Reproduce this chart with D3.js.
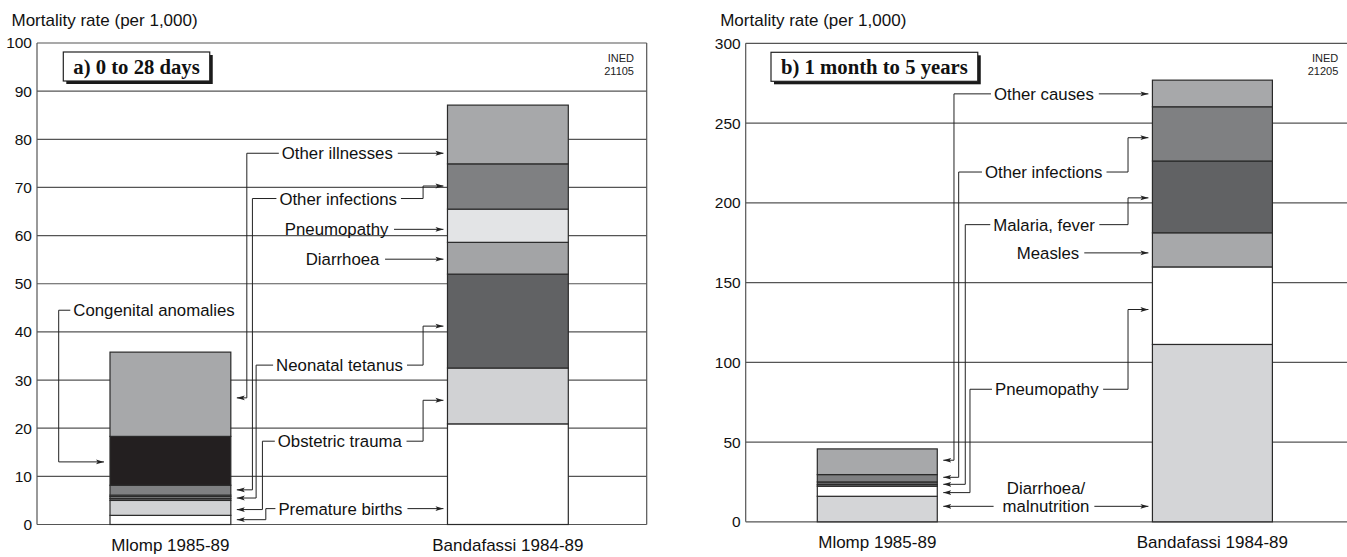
<!DOCTYPE html>
<html>
<head>
<meta charset="utf-8">
<script src="https://cdn.jsdelivr.net/npm/d3@7"></script>
<style>
body { margin: 0; background: #fff; }
svg { display: block; font-family: "Liberation Sans", Arial, Helvetica, sans-serif; }
</style>
</head>
<body>
<svg id="chart" width="1347" height="557"></svg>
<script>
//Sites on the x axis
var sites = ["Mlomp 1985-89", "Bandafassi 1984-89"];

//a) 0 to 28 days : causes stacked from the bottom of each bar
var causesA = ["Premature births", "Obstetric trauma", "Neonatal tetanus", "Diarrhoea",
    "Pneumopathy", "Other infections", "Congenital anomalies", "Other illnesses"];
var mlompA = [1.9, 3.1, 0.4, 0.4, 0.3, 2.05, 10.15, 17.5];
var bandafassiA = [20.9, 11.6, 19.5, 6.6, 6.9, 9.4, 0, 12.2];
var fillsA = ["#ffffff", "#d1d2d4", "#616264", "#a3a4a6", "#e3e4e6", "#7f8082", "#231f20", "#a7a8aa"];
var ticksA = [0, 10, 20, 30, 40, 50, 60, 70, 80, 90, 100];

//b) 1 month to 5 years
var causesB = ["Diarrhoea/malnutrition", "Pneumopathy", "Measles", "Malaria, fever",
    "Other infections", "Other causes"];
var mlompB = [16.0, 6.3, 1.0, 1.7, 4.6, 16.1];
var bandafassiB = [111.2, 48.6, 21.4, 45.0, 34.0, 16.7];
var fillsB = ["#d4d5d7", "#ffffff", "#a7a8aa", "#616264", "#7f8082", "#a7a8aa"];
var ticksB = [0, 50, 100, 150, 200, 250, 300];

//Callouts: label height and arrow targets are in rate units,
//lane / tx are pixel offsets from the right edge of the Mlomp bar
var calloutsA = [
    {text: ["Other illnesses"], y: 77.1, toM: 26.3, toB: 77.1, lane: 16, tx: 51},
    {text: ["Other infections"], y: 67.7, toM: 7.2, toB: 70.3, lane: 21.6, tx: 48.6},
    {text: ["Pneumopathy"], y: 61.3, toB: 61.3, tx: 157.6, anchor: "end"},
    {text: ["Diarrhoea"], y: 55.1, toB: 55.1, tx: 148.6, anchor: "end"},
    {text: ["Neonatal tetanus"], y: 33.1, toM: 5.5, toB: 41.2, lane: 25.3, tx: 45.3},
    {text: ["Obstetric trauma"], y: 17.3, toM: 3.1, toB: 25.8, lane: 31.6, tx: 47},
    {text: ["Premature births"], y: 3.3, toM: 1.0, toB: 3.3, lane: 35, tx: 47.6},
    {text: ["Congenital anomalies"], y: 44.5, toM: 13.0, outer: true, lane: -51.3, tx: -36.7}
];
var calloutsB = [
    {text: ["Other causes"], y: 268.3, toM: 38.6, toB: 268.3, lane: 16.7, tx: 56.7},
    {text: ["Other infections"], y: 219.3, toM: 27.9, toB: 240.8, lane: 21.4, tx: 47.7},
    {text: ["Malaria, fever"], y: 186.3, toM: 23.5, toB: 203.1, lane: 28, tx: 56},
    {text: ["Measles"], y: 168.6, toB: 168.6, tx: 142, anchor: "end"},
    {text: ["Pneumopathy"], y: 83.1, toM: 18.3, toB: 133.1, lane: 32.7, tx: 57.7},
    {text: ["Diarrhoea/", "malnutrition"], lines: [21.4, 9.7], y: 9.7, toM: 9.7, toB: 9.7, tx: 108.7, anchor: "middle"}
];

var svg = d3.select("#chart");
var ink = "#222";

svg.append("defs").append("marker")
    .attr("id", "arrow")
    .attr("markerUnits", "userSpaceOnUse")
    .attr("viewBox", "0 0 8 6")
    .attr("markerWidth", 8)
    .attr("markerHeight", 6)
    .attr("refX", 8)
    .attr("refY", 3)
    .attr("orient", "auto")
    .append("path")
    .attr("d", "M0,0.6 L8,3 L0,5.4 L1.8,3 Z")
    .attr("fill", ink);

function drawPanel(cfg) {
    var g = svg.append("g");

    var y = d3.scaleLinear().domain([0, cfg.max]).range([cfg.bottom, cfg.top]);
    var x = d3.scaleBand().domain(sites)
        .range([cfg.left + cfg.barInsetL, cfg.right - cfg.barInsetR])
        .paddingInner(0.642);

    //grid lines across the plot
    g.append("g").selectAll("line")
        .data(cfg.ticks)
        .join("line")
        .attr("x1", cfg.left)
        .attr("x2", cfg.right)
        .attr("y1", function (d) { return y(d); })
        .attr("y2", function (d) { return y(d); })
        .attr("stroke", "#555")
        .attr("stroke-width", 1.2);

    g.append("line")
        .attr("x1", cfg.left).attr("x2", cfg.left)
        .attr("y1", y(0)).attr("y2", y(cfg.max))
        .attr("stroke", "#555").attr("stroke-width", 1.2);
    g.append("line")
        .attr("x1", cfg.right).attr("x2", cfg.right)
        .attr("y1", y(0)).attr("y2", y(cfg.max))
        .attr("stroke", "#555").attr("stroke-width", 1.2);

    var axis = d3.axisLeft(y).tickValues(cfg.ticks).tickSize(0).tickPadding(5);
    g.append("g")
        .attr("transform", "translate(" + cfg.left + ",0)")
        .call(axis)
        .call(function (a) { a.select(".domain").remove(); })
        .selectAll("text")
        .attr("font-size", "15.5px")
        .attr("fill", "#111")
        .attr("font-family", "Liberation Sans, Arial, sans-serif");

    g.append("text")
        .attr("x", cfg.left - 25.5)
        .attr("y", 25.5)
        .attr("font-size", "17px")
        .attr("fill", "#111")
        .text("Mortality rate (per 1,000)");

    //stacked bars
    var series = [cfg.mlomp, cfg.banda];
    series.forEach(function (vals, i) {
        var site = sites[i];
        var base = 0;
        vals.forEach(function (v, k) {
            if (v > 0) {
                g.append("rect")
                    .attr("x", x(site))
                    .attr("y", y(base + v))
                    .attr("width", x.bandwidth())
                    .attr("height", y(base) - y(base + v))
                    .attr("fill", cfg.fills[k])
                    .attr("stroke", "#2a2a2a")
                    .attr("stroke-width", 1.2);
            }
            base += v;
        });
        g.append("text")
            .attr("x", x(site) + x.bandwidth() / 2)
            .attr("y", y(0) + 26)
            .attr("text-anchor", "middle")
            .attr("font-size", "17px")
            .attr("fill", "#111")
            .text(site);
    });

    //title box with shadow
    var tb = g.append("g").attr("transform", "translate(" + (cfg.left + cfg.titleDx) + "," + (cfg.top + 9) + ")");
    var shadow = tb.append("rect").attr("x", 3).attr("y", 3).attr("height", 29).attr("fill", "#1a1a1a");
    var box = tb.append("rect").attr("height", 29).attr("fill", "#fff").attr("stroke", "#222").attr("stroke-width", 1.2);
    var tt = tb.append("text")
        .attr("x", 10)
        .attr("y", 21.5)
        .attr("font-family", "Liberation Serif, Times New Roman, serif")
        .attr("font-weight", "bold")
        .attr("font-size", "20.7px")
        .attr("fill", "#111")
        .text(cfg.title);
    var tw = tt.node().getComputedTextLength() + 20;
    shadow.attr("width", tw);
    box.attr("width", tw);

    //INED stamp
    var stamp = g.append("text")
        .attr("font-family", "Liberation Sans Narrow, Arial Narrow, Liberation Sans, sans-serif")
        .attr("font-size", "11px")
        .attr("fill", "#222")
        .attr("text-anchor", "end");
    stamp.append("tspan").attr("x", cfg.stampX).attr("y", cfg.top + 19).text("INED");
    stamp.append("tspan").attr("x", cfg.stampX).attr("y", cfg.top + 32).text(cfg.stamp);

    //callouts
    var mR = x(sites[0]) + x.bandwidth();
    var mL = x(sites[0]);
    var bL = x(sites[1]);
    var elbowX = bL - 24.4;

    function path(pts, arrow) {
        g.append("path")
            .attr("d", d3.line()(pts))
            .attr("fill", "none")
            .attr("stroke", ink)
            .attr("stroke-width", 1)
            .attr("marker-end", arrow ? "url(#arrow)" : null);
    }

    cfg.callouts.forEach(function (c) {
        var ref = c.outer ? mL : mR;
        var lineYs = c.lines || [c.y];
        var anchor = c.anchor || "start";
        var boxes = [];
        c.text.forEach(function (t, k) {
            var el = g.append("text")
                .attr("x", ref + c.tx)
                .attr("y", y(lineYs[k]))
                .attr("dy", "0.36em")
                .attr("text-anchor", anchor)
                .attr("font-size", "16.8px")
                .attr("fill", "#111")
                .text(t);
            boxes.push(el.node().getBBox());
        });
        var last = boxes[boxes.length - 1];
        var ty = y(c.y);
        var tLeft = last.x, tRight = last.x + last.width;

        if (c.outer) {
            //left of the Mlomp bar
            var lx = ref + c.lane;
            path([[tLeft - 3, ty], [lx, ty], [lx, y(c.toM)], [mL - 6, y(c.toM)]], true);
            return;
        }

        if (c.toB != null) {
            if (Math.abs(c.toB - c.y) < 0.5) {
                path([[tRight + 5, ty], [bL - 4, ty]], true);
            } else {
                path([[tRight + 4, ty], [elbowX, ty], [elbowX, y(c.toB)], [bL - 4, y(c.toB)]], true);
            }
        }
        if (c.toM != null) {
            if (c.lane != null) {
                var lx2 = ref + c.lane;
                path([[tLeft - 3, ty], [lx2, ty], [lx2, y(c.toM)], [mR + 6, y(c.toM)]], true);
            } else {
                path([[tLeft - 9, ty], [mR + 6, y(c.toM)]], true);
            }
        }
    });
}

drawPanel({
    left: 37, right: 646.7, top: 43, bottom: 524.5, max: 100,
    barInsetL: 73, barInsetR: 78.4,
    ticks: ticksA, mlomp: mlompA, banda: bandafassiA, fills: fillsA,
    title: "a) 0 to 28 days", titleDx: 26.3, stamp: "21105", stampX: 634,
    callouts: calloutsA
});

drawPanel({
    left: 745.7, right: 1355.4, top: 43.3, bottom: 521.8, max: 300,
    barInsetL: 71.6, barInsetR: 83,
    ticks: ticksB, mlomp: mlompB, banda: bandafassiB, fills: fillsB,
    title: "b) 1 month to 5 years", titleDx: 25.3, stamp: "21205", stampX: 1338.3,
    callouts: calloutsB
});
</script>
</body>
</html>
